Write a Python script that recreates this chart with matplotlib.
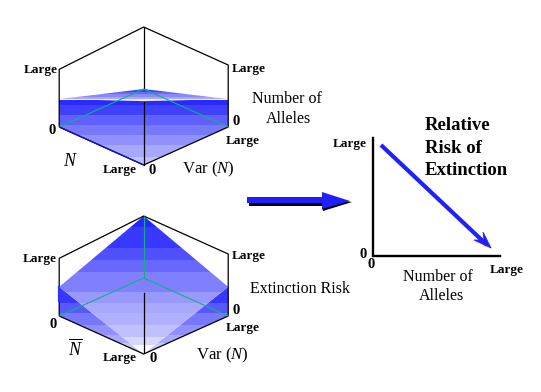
import matplotlib
matplotlib.use("Agg")
import matplotlib.pyplot as plt
from matplotlib.patches import Polygon, Rectangle

W, H = 541, 392
plt.rcParams['font.family'] = ['Liberation Serif', 'DejaVu Serif']
plt.rcParams['mathtext.fontset'] = 'custom'
plt.rcParams['mathtext.rm'] = 'Liberation Serif'
plt.rcParams['mathtext.it'] = 'Liberation Serif:italic'
plt.rcParams['mathtext.bf'] = 'Liberation Serif:bold'

# Box frame: (a = mean N axis, b = Var N axis, z = response), unit scale
FRAME_OUTLINE = [(1, 0, 0), (1, 0, .93), (1, 1, 1), (0, 1, 1), (0, 1, 0), (0, 0, 0), (1, 0, 0)]
FLOOR_BACK = [(1, 0, 0), (1, 1, 0), (0, 1, 0)]

# Upper panel: number of alleles surface
ALLELE_FRONT = [(1, 0, .45), (0, 0, 1.03), (0, 1, .45), (0, 1, 0), (0, 0, 0), (1, 0, 0)]
ALLELE_CAP = [(1, 0, .45), (1, 1, 0), (0, 1, .45), (0, 0, 1.03)]
# Lower panel: extinction risk surface
RISK_TOP = [(1, 1, 1), (1, 0, .47), (0, 0, 0), (0, 1, .47)]
RISK_LEFT = [(1, 0, .47), (1, 0, 0), (0, 0, 0)]
RISK_RIGHT = [(0, 1, .47), (0, 1, 0), (0, 0, 0)]

ALLELE_BANDS = [100, 105, 115, 125, 135, 145, 157, 166]
ALLELE_COLORS = ['#2a2aff', '#4040ff', '#6060ff', '#7878ff', '#9090ff', '#a8a8ff', '#c0c0ff']
CAP_BANDS = [89, 92, 94, 97, 99, 102]
CAP_COLORS = ['#4040ff', '#6868ff', '#8888ff', '#a8a8ff', '#f0f0ff']
RISK_BANDS = [216, 227, 248, 260, 272, 292, 303, 313, 325, 337, 345, 355]
RISK_COLORS = ['#2525ff', '#3838ff', '#5050ff', '#6868ff', '#8080ff', '#9898ff',
               '#a8a8ff', '#b0b0ff', '#c0c0ff', '#d8d8ff', '#ffffff']
WING_BANDS = [287, 303, 313, 325, 335, 343, 355]
WING_COLORS = ['#3838ff', '#5858ff', '#7878ff', '#9090ff', '#a8a8ff', '#c8c8ff']

TREND_X = [381, 487]
TREND_Y = [145, 245]

fig = plt.figure(figsize=(W / 100, H / 100), dpi=100)
ax = fig.add_axes([0, 0, 1, 1])
ax.set_xlim(0, W)
ax.set_ylim(H, 0)
ax.axis('off')


def proj(p, base_y):
    a, b, z = p
    return (143.7 + 84.5 * (b - a), base_y - 38 * (a + b) - 62 * z)


def bands(pts, base_y, edges, colors, z=1):
    poly = Polygon([proj(p, base_y) for p in pts], closed=True, fc='none', ec='none')
    ax.add_patch(poly)
    for y0, y1, c in zip(edges[:-1], edges[1:], colors):
        r = Rectangle((0, y0), W, y1 - y0, fc=c, ec='none', zorder=z)
        ax.add_patch(r)
        r.set_clip_path(poly)


def line3(pts, base_y, color='k', lw=0.9, z=3):
    xy = [proj(p, base_y) for p in pts]
    ax.plot([q[0] for q in xy], [q[1] for q in xy], color=color, lw=lw, zorder=z,
            solid_capstyle='butt')


# Upper panel
B1 = 165
bands(ALLELE_CAP, B1, CAP_BANDS, CAP_COLORS)
bands(ALLELE_FRONT, B1, ALLELE_BANDS, ALLELE_COLORS, z=2)
line3(FRAME_OUTLINE, B1)
ax.plot([143.7, 143.7], [28, 89], color='k', lw=0.9, zorder=3)
ax.plot([143.7, 143.7], [102, 165], color='k', lw=0.9, zorder=3)
line3(FLOOR_BACK, B1, color='#10b080', lw=0.8, z=4)
line3(FRAME_OUTLINE[-2:], B1, color='#1010d0', lw=0.9, z=4)

# Lower panel
B2 = 354
bands(RISK_LEFT, B2, WING_BANDS, WING_COLORS)
bands(RISK_RIGHT, B2, WING_BANDS, WING_COLORS)
bands(RISK_TOP, B2, RISK_BANDS, RISK_COLORS, z=2)
line3(FRAME_OUTLINE, B2)
ax.plot([143.7, 143.7], [293, 352], color='k', lw=0.9, zorder=3)
line3([(1, 1, 1), (1, 1, 0)], B2, color='#10b080', lw=0.8, z=4)
line3(FLOOR_BACK, B2, color='#10b080', lw=0.8, z=4)
ax.plot([58.5, 58.5], [287, 301], color='#3030ff', lw=1.6, zorder=4)

# Block arrow between the panels
ax.add_patch(Polygon([(249, 203), (323, 203), (323, 206), (249, 206)], fc='k', ec='none', zorder=4))
ax.add_patch(Polygon([(322, 208), (345, 201), (352, 202), (323, 211)], fc='k', ec='none', zorder=4))
ax.add_patch(Polygon([(247, 197), (322, 197), (322, 192), (350, 201), (322, 209), (322, 203), (247, 203)],
                     fc='#2020ff', ec='none', zorder=5))

# Line chart
ax.plot([373, 373, 500], [138, 256, 256], color='k', lw=1.7, zorder=3, solid_joinstyle='miter')
ax.plot(TREND_X, TREND_Y, color='#2020ff', lw=3.0, zorder=4, solid_capstyle='butt')
ax.add_patch(Polygon([(491, 248), (483, 232), (484, 240), (474, 240)], fc='#2020ff', ec='#2020ff', lw=0.6, zorder=5))


def label(x, y, s, size=9.5, weight='bold', ha='center', style='normal'):
    ax.text(x, y, s, fontsize=size, fontweight=weight, ha=ha, va='center', style=style,
            color='k', zorder=6)


for x, y, s in [(41, 70, 'Large'), (249, 69, 'Large'), (243, 141, 'Large'), (120, 170, 'Large'),
                (40, 259, 'Large'), (249, 256, 'Large'), (243, 328, 'Large'), (120, 358, 'Large'),
                (350, 144, 'Large'), (507, 270, 'Large')]:
    label(x, y, s)
for x, y in [(52, 131), (236, 121), (152, 170), (53, 325), (236, 310), (153, 358), (363, 255), (371, 265)]:
    label(x, y, '0', size=10.5)

label(287, 99, 'Number of', size=11.5, weight='normal')
label(288, 119, 'Alleles', size=11.5, weight='normal')
label(299.5, 289, 'Extinction Risk', size=11.5, weight='normal')
label(438, 277, 'Number of', size=11.5, weight='normal')
label(441, 296, 'Alleles', size=11.5, weight='normal')
label(208.5, 169, r'Var ($\mathit{N}$)', size=12, weight='normal')
label(222, 355, r'Var ($\mathit{N}$)', size=12, weight='normal')
label(70, 161, r'$\mathit{N}$', size=13, weight='normal')
label(75, 349, r'$\overline{\mathit{N}}$', size=13, weight='normal')

for y, s in [(125, 'Relative'), (148, 'Risk of'), (170, 'Extinction')]:
    label(425, y, s, size=13.5, ha='left')

fig.savefig('out.png', dpi=100, facecolor='white')
